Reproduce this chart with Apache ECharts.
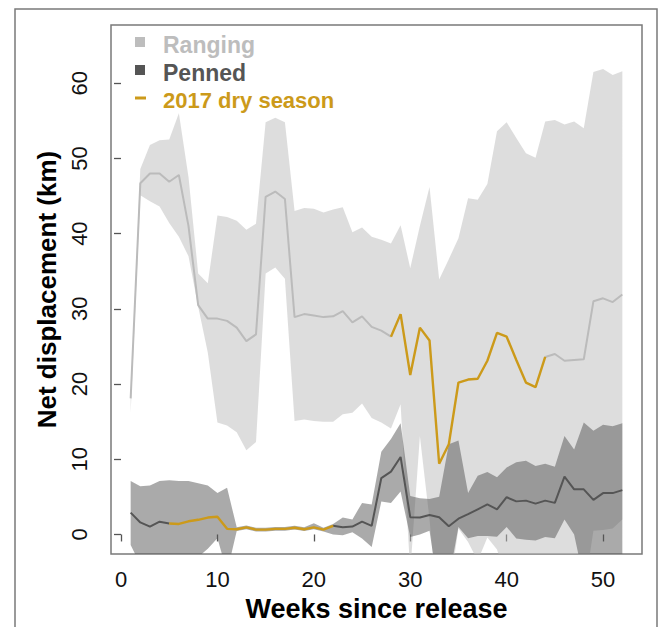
<!DOCTYPE html>
<html>
<head>
<meta charset="utf-8">
<script src="https://cdn.jsdelivr.net/npm/echarts@6/dist/echarts.min.js"></script>
<style>
  html, body { margin: 0; padding: 0; background: #ffffff; }
  #main { width: 670px; height: 627px; }
</style>
</head>
<body>
<div id="main"></div>
<script>
// Weekly net displacement (km) after release, ranging vs penned animals
const weeks = [1, 2, 3, 4, 5, 6, 7, 8, 9, 10, 11, 12, 13, 14, 15, 16, 17, 18, 19, 20,
  21, 22, 23, 24, 25, 26, 27, 28, 29, 30, 31, 32, 33, 34, 35, 36, 37, 38, 39, 40,
  41, 42, 43, 44, 45, 46, 47, 48, 49, 50, 51, 52];

const rangingMean = [18.1, 46.7, 48.0, 48.0, 46.9, 47.8, 41.0, 30.5, 28.7, 28.7,
  28.4, 27.5, 25.7, 26.6, 44.9, 45.6, 44.6, 28.9, 29.3, 29.1,
  28.9, 29.0, 29.7, 28.2, 29.0, 27.6, 27.1, 26.3, 29.3, 21.2,
  27.5, 25.8, 9.4, 12.0, 20.2, 20.6, 20.7, 23.1, 26.8, 26.3,
  23.2, 20.2, 19.6, 23.6, 24.0, 23.1, 23.2, 23.3, 31.0, 31.4,
  30.9, 31.9];
const rangingUpper = [18.3, 48.6, 51.8, 52.4, 52.5, 56.0, 47.5, 34.7, 33.4, 42.4,
  42.2, 41.7, 40.5, 41.3, 54.8, 55.4, 54.8, 43.0, 43.4, 43.3,
  42.8, 43.2, 43.5, 40.2, 40.8, 39.6, 39.2, 38.7, 41.1, 35.4,
  41.0, 46.2, 33.9, 36.6, 39.4, 44.7, 44.5, 46.6, 53.6, 54.8,
  52.7, 50.7, 50.1, 54.9, 55.1, 54.5, 54.9, 54.0, 61.5, 61.9,
  61.1, 61.6];
const rangingLower = [16.2, 45.1, 44.3, 43.6, 41.4, 39.6, 37.0, 30.3, 24.2, 14.9,
  14.5, 13.6, 11.2, 12.3, 34.7, 35.5, 34.0, 15.1, 15.3, 15.1,
  15.0, 15.0, 16.0, 16.2, 17.4, 15.5, 14.9, 14.1, 17.3, -5.0,
  13.1, 2.0, -12.0, -8.0, 0.8, -1.0, -3.5, -0.4, -2.0, -6.0,
  -6.0, -6.0, -6.0, -6.0, -6.0, -5.0, -5.0, -8.0, 0.5, 0.6,
  0.8, 2.0];

const pennedMean = [2.9, 1.6, 1.05, 1.7, 1.45, 1.4, 1.75, 1.95, 2.25, 2.35,
  0.75, 0.7, 0.95, 0.65, 0.65, 0.75, 0.75, 0.9, 0.7, 0.95,
  0.65, 1.15, 0.95, 1.05, 1.7, 1.15, 7.5, 8.35, 10.3, 2.3,
  2.25, 2.6, 2.3, 1.1, 2.1, 2.7, 3.35, 4.0, 3.35, 4.95,
  4.4, 4.5, 4.1, 4.5, 4.2, 7.7, 6.0, 6.0, 4.6, 5.5,
  5.5, 5.9];
const pennedUpper = [7.1, 6.4, 6.5, 7.1, 7.2, 7.1, 7.1, 6.8, 6.5, 5.5,
  6.2, 0.95, 1.2, 0.9, 0.9, 1.0, 1.0, 1.15, 0.95, 1.5,
  0.9, 1.4, 2.25, 2.0, 4.2, 4.0, 11.0, 12.7, 14.8, 5.1,
  4.8, 4.7, 5.0, 12.0, 12.5, 5.5, 7.8, 8.3, 7.6, 8.9,
  9.6, 9.8, 9.1, 9.4, 9.0, 13.1, 11.3, 14.9, 13.8, 14.6,
  14.4, 14.8];
const pennedLower = [-1.4, -4.0, -5.0, -5.0, -5.0, -5.0, -4.5, -3.0, -1.9, -0.5,
  -5.0, 0.45, 0.7, 0.4, 0.4, 0.5, 0.5, 0.65, 0.45, 0.7,
  0.4, 0.0, -0.1, 0.3, -0.55, -1.65, 4.4, 4.2, 5.7, -0.35,
  0.0, 0.5, -8.0, -6.0, 1.0, -0.5, -0.2, -0.2, -0.3, 1.0,
  -0.55, -0.7, -0.8, -0.35, -0.5, 2.0, 0.0, -6.0, -6.0, -6.0,
  -6.0, -5.0];

// First and last week of the 2017 dry season for each group
const rangingDryWeeks = [28, 44];
const pennedDryWeeks = [5, 22];

const xTicks = [0, 10, 20, 30, 40, 50];
const yTicks = [0, 10, 20, 30, 40, 50, 60];

const FONT = '"Liberation Sans", Arial, Helvetica, sans-serif';
const GOLD = '#CC9A1A';

function bandRows(lower, upper) {
  return weeks.map((w, i) => [w, lower[i], upper[i]]);
}
// keep only the weeks inside [from, to]
function inside(values, range) {
  return weeks.map((w, i) => [w, (w >= range[0] && w <= range[1]) ? values[i] : null]);
}
// drop the weeks strictly inside (from, to)
function outside(values, range) {
  return weeks.map((w, i) => [w, (w > range[0] && w < range[1]) ? null : values[i]]);
}

// One closed polygon per band: upper edge left to right, lower edge back
function bandRenderer(fill) {
  return function (params, api) {
    if (params.dataIndexInside !== 0) return null;
    const n = params.dataInsideLength;
    const top = [], bottom = [];
    for (let j = 0; j < n; j++) {
      const w = api.value(0, j);
      top.push(api.coord([w, api.value(2, j)]));
      bottom.push(api.coord([w, api.value(1, j)]));
    }
    const pts = top.concat(bottom.reverse());
    const cs = params.coordSys;
    return {
      type: 'polygon',
      shape: { points: pts },
      style: { fill: fill, stroke: 'none' },
      clipPath: { type: 'rect', shape: { x: cs.x, y: cs.y, width: cs.width, height: cs.height } }
    };
  };
}

const chart = echarts.init(document.getElementById('main'), null, { renderer: 'svg' });

chart.setOption({
  animation: false,
  backgroundColor: '#ffffff',
  textStyle: { fontFamily: FONT },
  grid: {
    left: 111, right: 28, top: 25, bottom: 63,
    show: true, borderColor: '#7a7a7a', borderWidth: 1.5,
    backgroundColor: 'transparent'
  },
  xAxis: {
    type: 'value',
    min: -1.04, max: 54.04,
    axisLine: { show: false },
    splitLine: { show: false },
    axisTick: { show: true, length: 7, customValues: xTicks,
      lineStyle: { color: '#555', width: 1.3 } },
    axisLabel: { customValues: xTicks, fontSize: 22, color: '#111',
      margin: 14, fontFamily: FONT },
    name: 'Weeks since release',
    nameLocation: 'middle',
    nameGap: 37,
    nameTextStyle: { fontSize: 27, fontWeight: 'bold', color: '#000', fontFamily: FONT }
  },
  yAxis: {
    type: 'value',
    min: -2.61, max: 67.74,
    axisLine: { show: false },
    splitLine: { show: false },
    axisTick: { show: true, length: 7, customValues: yTicks,
      lineStyle: { color: '#555', width: 1.3 } },
    axisLabel: { customValues: yTicks, fontSize: 22, color: '#111',
      rotate: 90, margin: 21, fontFamily: FONT },
    name: 'Net displacement (km)',
    nameLocation: 'middle',
    nameGap: 46,
    nameRotate: 90,
    nameTextStyle: { fontSize: 26, fontWeight: 'bold', color: '#000', fontFamily: FONT }
  },
  series: [
    { type: 'custom', name: 'Ranging', data: bandRows(rangingLower, rangingUpper),
      renderItem: bandRenderer('rgba(187,187,187,0.5)'), silent: true,
      encode: { x: 0, y: [1, 2] } },
    { type: 'custom', name: 'Penned', data: bandRows(pennedLower, pennedUpper),
      renderItem: bandRenderer('rgba(85,85,85,0.5)'), silent: true,
      encode: { x: 0, y: [1, 2] } },
    { type: 'line', name: 'Ranging mean', data: outside(rangingMean, rangingDryWeeks),
      symbol: 'none', connectNulls: false,
      lineStyle: { color: '#BBBBBB', width: 2 } },
    { type: 'line', name: 'Penned mean', data: outside(pennedMean, pennedDryWeeks),
      symbol: 'none', connectNulls: false,
      lineStyle: { color: '#555555', width: 2 } },
    { type: 'line', name: '2017 dry season', data: inside(rangingMean, rangingDryWeeks),
      symbol: 'none', lineStyle: { color: GOLD, width: 2.4 } },
    { type: 'line', name: '2017 dry season (penned)', data: inside(pennedMean, pennedDryWeeks),
      symbol: 'none', lineStyle: { color: GOLD, width: 2.4 } }
  ],
  graphic: [
    { type: 'rect', shape: { x: 15, y: 9, width: 642, height: 640 },
      style: { fill: 'none', stroke: '#7a7a7a', lineWidth: 1.5 }, silent: true },
    { type: 'rect', shape: { x: 135, y: 37, width: 10, height: 10 },
      style: { fill: '#BDBDBD' } },
    { type: 'text', x: 163, y: 44.5,
      style: { text: 'Ranging', fill: '#BDBDBD', font: 'bold 23px ' + FONT,
        textVerticalAlign: 'middle' } },
    { type: 'rect', shape: { x: 135, y: 65, width: 10, height: 10 },
      style: { fill: '#555555' } },
    { type: 'text', x: 163, y: 72.5,
      style: { text: 'Penned', fill: '#555555', font: 'bold 23px ' + FONT,
        textVerticalAlign: 'middle' } },
    { type: 'rect', shape: { x: 135, y: 96.5, width: 11, height: 3 },
      style: { fill: GOLD } },
    { type: 'text', x: 163, y: 100,
      style: { text: '2017 dry season', fill: GOLD, font: 'bold 22px ' + FONT,
        textVerticalAlign: 'middle' } }
  ]
});
</script>
</body>
</html>
